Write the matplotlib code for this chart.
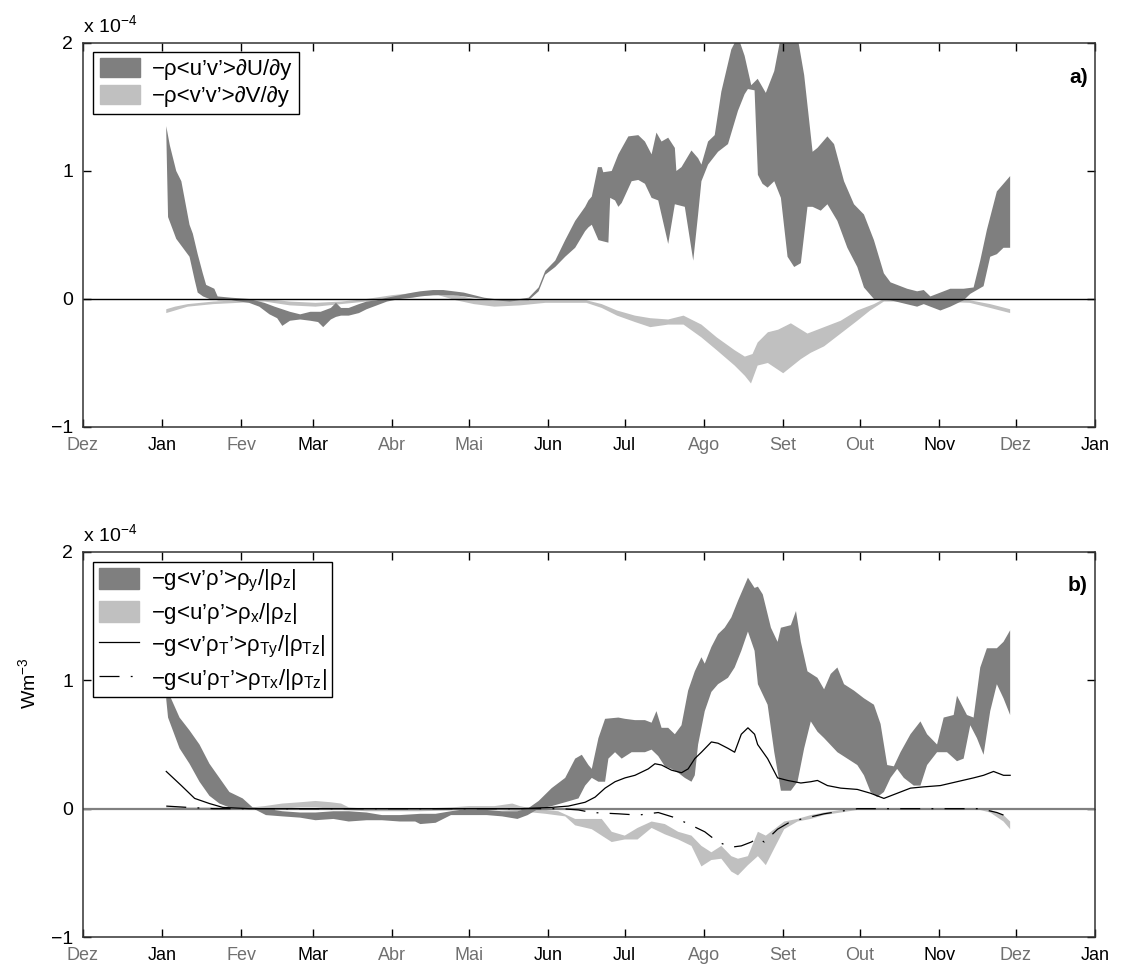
import numpy as np
import matplotlib
matplotlib.use("Agg")
import matplotlib.pyplot as plt
from matplotlib.patches import Patch
from matplotlib.lines import Line2D

plt.rcParams['font.family'] = ['Liberation Sans', 'DejaVu Sans']
plt.rcParams['mathtext.fontset'] = 'custom'
plt.rcParams['mathtext.rm'] = 'Liberation Sans'
plt.rcParams['mathtext.it'] = 'Liberation Sans:italic'

# days since 1 Jan; values in units of 1e-4
months = ['Dez', 'Jan', 'Fev', 'Mar', 'Abr', 'Mai', 'Jun', 'Jul', 'Ago', 'Set', 'Out', 'Nov', 'Dez', 'Jan']
month_days = [-31, 0, 31, 59, 90, 120, 151, 181, 212, 243, 273, 304, 334, 365]
grey_labels = ['Dez', 'Fev', 'Abr', 'Mai', 'Ago', 'Set', 'Out']

# ---- panel a: -rho<u'v'>dU/dy (dark band) ----
a_dark_top_day = [1.6, 3.0, 5.5, 7.5, 10.7, 12.0, 13.9, 15.9, 17.2, 20.4, 21.7, 27, 34, 40, 44, 47, 50, 54,
                  58, 62, 66, 68, 70, 73, 77, 80, 84, 88, 93, 98, 101, 106, 110, 114, 118, 122, 126, 130,
                  136, 140, 143.4, 147.3, 149.9, 153.8, 157.7, 161.6, 165.5, 166.8, 168.1, 170.5, 172.0,
                  172.6, 175.9, 178.5, 182.4, 186.3, 188.9, 191.5, 193.4, 195.4, 198.0, 200.6, 201.2,
                  203.2, 207.1, 209.7, 211.0, 213.6, 216.2, 218.8, 222.7, 225.3, 227.9, 230.5, 233.0,
                  236.2, 239.5, 242.1, 248.6, 251.2, 254.5, 256.4, 260.3, 262.9, 266.8, 270.7, 274.6,
                  278.5, 282.4, 285.0, 291.5, 295.4, 298.0, 300.6, 305.8, 308.4, 313.6, 317.5, 320.1,
                  322.7, 326.6, 331.8]
a_dark_top = [1.35, 1.20, 1.00, 0.92, 0.58, 0.51, 0.35, 0.20, 0.11, 0.08, 0.02, 0.01, 0.0, -0.03, -0.06,
              -0.08, -0.10, -0.12, -0.10, -0.10, -0.07, -0.03, -0.07, -0.07, -0.04, -0.02, -0.01, 0.01,
              0.03, 0.05, 0.06, 0.07, 0.07, 0.06, 0.05, 0.03, 0.01, 0.0, 0.0, 0.0, 0.01, 0.09, 0.22,
              0.30, 0.46, 0.61, 0.72, 0.77, 0.80, 1.03, 1.03, 0.99, 1.00, 1.13, 1.27, 1.28, 1.23, 1.13,
              1.30, 1.23, 1.26, 1.18, 1.00, 1.03, 1.16, 1.10, 1.05, 1.23, 1.28, 1.62, 1.95, 2.05, 1.90,
              1.67, 1.72, 1.61, 1.78, 2.05, 2.05, 1.75, 1.15, 1.18, 1.27, 1.21, 0.92, 0.74, 0.66, 0.46,
              0.20, 0.13, 0.08, 0.06, 0.07, 0.02, 0.06, 0.08, 0.08, 0.09, 0.30, 0.54, 0.84, 0.96]
a_dark_bot_day = [1.6, 2.3, 5.5, 8.1, 10.7, 12.7, 13.9, 16, 18.5, 22, 27, 34, 38, 42, 45, 47, 50, 54, 58,
                  61, 63, 66, 68, 70, 73, 77, 80, 84, 88, 93, 98, 101, 106, 110, 114, 118, 122, 126, 130,
                  136, 140, 143.4, 147.3, 149.9, 153.8, 157.7, 161.6, 165.5, 166.8, 168.1, 170.7, 172.6,
                  174.6, 175.3, 177.2, 178.5, 179.8, 183.7, 186.3, 188.9, 191.5, 194.1, 198.0, 200.6,
                  204.5, 207.8, 209.7, 211.0, 213.6, 217.5, 221.4, 225.3, 227.9, 229.2, 231.8, 233.1,
                  234.9, 236.9, 239.5, 242.1, 244.7, 247.3, 249.9, 252.5, 254.5, 257.7, 260.3, 264.2,
                  268.1, 272.0, 274.6, 278.5, 285.0, 295.4, 298.0, 304.5, 308.4, 313.6, 316.2, 321.4,
                  324.0, 326.6, 329.2, 331.8]
a_dark_bot = [1.30, 0.64, 0.47, 0.40, 0.33, 0.15, 0.05, 0.02, 0.0, -0.01, -0.01, -0.03, -0.06, -0.12,
              -0.15, -0.21, -0.17, -0.16, -0.17, -0.18, -0.22, -0.16, -0.14, -0.13, -0.13, -0.11, -0.08,
              -0.05, -0.02, 0.0, 0.01, 0.02, 0.03, 0.03, 0.03, 0.02, 0.01, 0.0, -0.01, -0.02, -0.01,
              -0.01, 0.06, 0.19, 0.25, 0.33, 0.40, 0.53, 0.56, 0.58, 0.46, 0.45, 0.44, 0.79, 0.77, 0.72,
              0.75, 0.92, 0.93, 0.90, 0.79, 0.77, 0.43, 0.74, 0.72, 0.30, 0.66, 0.92, 1.05, 1.15, 1.21,
              1.47, 1.60, 1.64, 1.63, 0.97, 0.90, 0.87, 0.92, 0.79, 0.33, 0.25, 0.28, 0.72, 0.72, 0.69,
              0.74, 0.61, 0.40, 0.25, 0.09, 0.0, -0.01, -0.06, -0.04, -0.09, -0.06, -0.01, 0.04, 0.10,
              0.33, 0.35, 0.40, 0.40]

# ---- panel a: -rho<v'v'>dV/dy (light band) ----
a_light_top_day = [1.6, 5, 10, 15, 20, 30, 40, 50, 60, 70, 80, 90, 100, 108, 115, 122, 130, 140, 150, 160,
                   166, 172, 178, 185, 191, 198, 204, 211, 217, 224, 228, 231, 233, 237, 241, 246, 252.5,
                   259, 265.5, 272, 278.5, 282.4, 300, 316, 324, 331.8]
a_light_top = [-0.08, -0.06, -0.04, -0.03, -0.02, -0.01, 0.0, -0.02, -0.03, -0.02, 0.0, 0.03, 0.05, 0.06,
               0.03, 0.0, -0.01, -0.01, -0.01, -0.01, -0.01, -0.04, -0.09, -0.13, -0.15, -0.16, -0.13,
               -0.20, -0.30, -0.40, -0.45, -0.43, -0.34, -0.26, -0.24, -0.19, -0.27, -0.22, -0.17, -0.09,
               -0.04, 0.0, 0.0, -0.01, -0.04, -0.08]
a_light_bot_day = [1.6, 5, 10, 15, 20, 30, 40, 50, 60, 70, 80, 90, 100, 108, 115, 122, 130, 140, 150, 160,
                   166, 172, 178, 185, 191, 198, 204, 211, 217, 224, 228, 230.4, 233, 237, 243, 249.9,
                   253.8, 259, 265.5, 272, 277, 282.4, 300, 316, 324, 331.8]
a_light_bot = [-0.11, -0.09, -0.06, -0.05, -0.04, -0.03, -0.02, -0.05, -0.06, -0.04, -0.02, 0.0, 0.02,
               0.03, -0.01, -0.04, -0.06, -0.05, -0.03, -0.03, -0.03, -0.07, -0.13, -0.18, -0.22, -0.20,
               -0.20, -0.30, -0.40, -0.52, -0.60, -0.66, -0.52, -0.50, -0.58, -0.47, -0.42, -0.37, -0.27,
               -0.17, -0.09, -0.02, -0.02, -0.03, -0.07, -0.11]

# ---- panel b: -g<v'rho'>rho_y/|rho_z| (dark band) ----
b_dark_top_day = [1.6, 3.0, 6.8, 10.7, 14.6, 18.5, 22.4, 26.3, 31.5, 35.4, 40.6, 47, 54, 60, 67, 73, 80,
                  86, 93, 101, 107, 113, 120, 127, 133, 139, 143, 147.3, 152.4, 157.7, 161.6, 164.2, 166.8,
                  168.1, 170.7, 173.3, 178.5, 181.1, 185, 188.9, 191.5, 193.4, 195.4, 198, 200.6, 203.2,
                  205.8, 208.4, 211, 212.3, 214.9, 217.5, 220.1, 222.7, 225.3, 229.2, 231.8, 233.1, 235,
                  238.2, 240.8, 242.1, 246, 248, 249.9, 252.5, 256.4, 259, 261.6, 264.2, 266.8, 270.7,
                  274.6, 278.5, 281.1, 283.7, 286.3, 288.9, 292.8, 296.7, 299.3, 303.2, 305.8, 309.7, 311,
                  314.9, 317.5, 320.1, 322.7, 326.6, 329.2, 331.8]
b_dark_top = [1.00, 0.88, 0.71, 0.61, 0.50, 0.35, 0.24, 0.13, 0.08, 0.01, 0.0, -0.02, -0.03, -0.03,
              -0.02, -0.02, -0.03, -0.05, -0.05, -0.04, -0.04, -0.02, 0.0, -0.01, -0.02, -0.02, 0.0, 0.06,
              0.16, 0.24, 0.39, 0.42, 0.34, 0.31, 0.55, 0.70, 0.71, 0.70, 0.69, 0.69, 0.67, 0.76, 0.63,
              0.63, 0.58, 0.65, 0.92, 1.07, 1.18, 1.13, 1.26, 1.36, 1.41, 1.49, 1.62, 1.80, 1.72, 1.73,
              1.67, 1.41, 1.30, 1.41, 1.43, 1.54, 1.30, 1.07, 1.02, 0.93, 1.05, 1.10, 0.97, 0.92, 0.86,
              0.81, 0.66, 0.34, 0.33, 0.44, 0.58, 0.68, 0.58, 0.50, 0.71, 0.73, 0.88, 0.73, 0.71, 1.10,
              1.25, 1.25, 1.30, 1.39]
b_dark_bot_day = [1.6, 2.3, 6.8, 10.7, 14.6, 18.5, 22.4, 27.6, 36.7, 40.6, 47, 54, 60, 67, 73, 80, 86,
                  93, 99, 101, 107, 113, 120, 127, 133, 139, 143, 147.3, 152.4, 157.7, 162.9, 165.5, 168.1,
                  170.7, 173.3, 174.6, 177.2, 179.8, 183.7, 188.9, 191.5, 194.1, 196.7, 199.3, 201.9,
                  204.5, 207.1, 208.4, 209.7, 212.3, 214.9, 217.5, 221.4, 224, 226.6, 229.2, 231.8, 233.1,
                  236.9, 239.5, 242.1, 246, 248.6, 251.2, 253.8, 256.4, 259, 264.2, 268.1, 272, 274.6,
                  277.2, 279.8, 282.4, 285, 287.6, 290.2, 294.1, 296.7, 299.3, 303.2, 307.1, 311, 313.6,
                  316.2, 318.8, 321.4, 324, 326.6, 329.2, 331.8]
b_dark_bot = [0.85, 0.71, 0.47, 0.35, 0.21, 0.10, 0.04, 0.0, -0.01, -0.05, -0.06, -0.07, -0.09, -0.08,
              -0.10, -0.09, -0.09, -0.10, -0.10, -0.12, -0.11, -0.05, -0.05, -0.05, -0.06, -0.08, -0.05,
              0.0, 0.02, 0.05, 0.08, 0.18, 0.24, 0.21, 0.21, 0.39, 0.44, 0.39, 0.44, 0.44, 0.46, 0.41,
              0.33, 0.31, 0.28, 0.24, 0.21, 0.26, 0.50, 0.76, 0.91, 0.97, 1.02, 1.10, 1.23, 1.38, 1.23,
              0.97, 0.81, 0.44, 0.14, 0.14, 0.21, 0.47, 0.68, 0.60, 0.55, 0.44, 0.39, 0.34, 0.26, 0.13,
              0.09, 0.13, 0.24, 0.31, 0.24, 0.18, 0.18, 0.34, 0.44, 0.44, 0.37, 0.39, 0.65, 0.55, 0.42,
              0.76, 0.97, 0.86, 0.73]

# ---- panel b: -g<u'rho'>rho_x/|rho_z| (light band) ----
b_light_top_day = [1.6, 20, 35, 40, 47, 54, 60, 66, 70, 73, 80, 90, 101, 113, 120, 130, 137, 140, 145, 150,
                   155, 161.6, 168.1, 172, 175.9, 181, 186, 191.5, 196.7, 201.9, 207.1, 211, 214.9, 218.8,
                   222.7, 225.3, 229.2, 233.1, 236.2, 239.5, 243.4, 248.6, 253.8, 259, 265.5, 272, 320,
                   324, 329.2, 331.8]
b_light_top = [0.01, 0.01, 0.01, 0.02, 0.04, 0.05, 0.06, 0.05, 0.04, 0.01, 0.0, 0.0, 0.0, 0.01, 0.02,
               0.02, 0.04, 0.02, 0.0, -0.01, -0.02, -0.08, -0.08, -0.08, -0.18, -0.21, -0.15, -0.10,
               -0.12, -0.18, -0.21, -0.29, -0.34, -0.29, -0.37, -0.39, -0.37, -0.18, -0.21, -0.16, -0.10,
               -0.08, -0.05, -0.03, -0.01, 0.0, 0.0, -0.01, -0.05, -0.10]
b_light_bot_day = [1.6, 20, 35, 40, 47, 54, 60, 66, 70, 80, 101, 120, 130, 140, 150, 157.7, 161.6, 168.1,
                   172, 175.9, 181, 186, 191.5, 196.7, 201.9, 207.1, 211, 214.9, 218.8, 222.7, 225.3, 229.2,
                   233.1, 236.2, 239.5, 243.4, 248.6, 253.8, 259, 265.5, 272, 320, 324, 329.2, 331.8]
b_light_bot = [-0.01, -0.01, -0.01, -0.01, 0.0, 0.01, 0.01, 0.0, -0.01, -0.02, -0.02, -0.01, -0.01, -0.02,
               -0.04, -0.06, -0.13, -0.16, -0.21, -0.26, -0.24, -0.24, -0.15, -0.20, -0.24, -0.29, -0.45,
               -0.40, -0.39, -0.49, -0.52, -0.44, -0.37, -0.44, -0.31, -0.16, -0.10, -0.08, -0.05, -0.03,
               -0.01, -0.01, -0.03, -0.10, -0.16]

# ---- panel b: temperature-only terms (lines) ----
b_solid_day = [1.6, 7.5, 12.7, 18.5, 23.7, 34, 60, 90, 120, 140, 152.4, 158.9, 165.5, 169.4, 173.3, 177.2,
               181.1, 185, 190.2, 192.8, 195.4, 199.3, 203.2, 205.8, 208.4, 211, 214.9, 217.5, 221.4, 224,
               226.6, 229.2, 231.8, 233, 236.9, 240.8, 244.7, 249.9, 253.8, 256.4, 260.3, 265.5, 272,
               277.2, 282.4, 287.6, 292.8, 298, 304.5, 311, 317.5, 321.4, 325.3, 329.2, 331.8]
b_solid = [0.29, 0.18, 0.08, 0.04, 0.01, 0.0, 0.0, 0.0, 0.0, 0.0, 0.01, 0.02, 0.05, 0.09, 0.16, 0.21,
           0.24, 0.26, 0.31, 0.35, 0.34, 0.30, 0.28, 0.31, 0.39, 0.44, 0.52, 0.51, 0.47, 0.44, 0.58, 0.63,
           0.58, 0.50, 0.39, 0.24, 0.22, 0.20, 0.21, 0.22, 0.18, 0.16, 0.15, 0.12, 0.08, 0.12, 0.16, 0.17,
           0.18, 0.21, 0.24, 0.26, 0.29, 0.26, 0.26]
b_dash_day = [1.6, 10, 20, 60, 100, 140, 156, 162.9, 168.1, 178.5, 186.3, 194.1, 200.6, 207.1, 212.3, 217.5,
              222.7, 226.6, 230.5, 233.1, 235.6, 240.8, 246, 252.5, 259, 265.5, 272, 320, 326.6, 329.2]
b_dash = [0.02, 0.01, 0.0, 0.0, 0.0, 0.0, 0.0, -0.01, -0.03, -0.04, -0.05, -0.03, -0.07, -0.13, -0.18,
          -0.26, -0.30, -0.29, -0.26, -0.23, -0.26, -0.16, -0.10, -0.07, -0.04, -0.02, 0.0, 0.0, -0.03, -0.05]

dark = '#7f7f7f'
light = '#c0c0c0'
fs = 13
lfs = 16
dashdot = (0, (16, 9, 1.5, 9))


def band(ax, xt, yt, xb, yb, color):
    xs = np.concatenate([xt, xb[::-1]])
    ys = np.concatenate([yt, yb[::-1]])
    ax.fill(xs, ys, color=color, lw=0)


def style(ax):
    ax.set_xlim(-31, 365)
    ax.set_ylim(-1, 2)
    ax.set_yticks([-1, 0, 1, 2])
    ax.set_yticklabels(['\u22121', '0', '1', '2'], fontsize=fs + 1)
    ax.set_xticks(month_days)
    ax.set_xticklabels(months, fontsize=fs)
    for lab in ax.get_xticklabels():
        if lab.get_text() in grey_labels:
            lab.set_color('#707070')
    ax.tick_params(direction='in', top=True, right=True, length=6, width=1, pad=7)
    for s in ax.spines.values():
        s.set_linewidth(1.1)
        s.set_color('#333333')
    ax.text(0, 1.018, 'x 10$^{-4}$', transform=ax.transAxes, fontsize=fs + 1, ha='left', va='bottom')


fig = plt.figure(figsize=(11.21, 9.72), dpi=100)
ax1 = fig.add_axes([0.0740, 0.5607, 0.9028, 0.3951])
ax2 = fig.add_axes([0.0740, 0.0360, 0.9028, 0.3961])

# a)
band(ax1, np.array(a_light_top_day), np.array(a_light_top), np.array(a_light_bot_day), np.array(a_light_bot), light)
band(ax1, np.array(a_dark_top_day), np.array(a_dark_top), np.array(a_dark_bot_day), np.array(a_dark_bot), dark)
ax1.axhline(0, color='black', lw=1)
style(ax1)
ax1.text(0.993, 0.91, 'a)', transform=ax1.transAxes, fontsize=15, fontweight='bold', ha='right', va='center')
h1 = [Patch(color=dark), Patch(color=light)]
l1 = ['\u2212\u03c1<u\u2019v\u2019>\u2202U/\u2202y', '\u2212\u03c1<v\u2019v\u2019>\u2202V/\u2202y']
leg = ax1.legend(h1, l1, loc='upper left', bbox_to_anchor=(0.01, 0.977), borderaxespad=0, fontsize=lfs,
                 handlelength=1.8, handleheight=0.9, handletextpad=0.55, labelspacing=0.22, borderpad=0.3,
                 fancybox=False, framealpha=1, edgecolor='black')
leg.get_frame().set_linewidth(1)

# b)
band(ax2, np.array(b_light_top_day), np.array(b_light_top), np.array(b_light_bot_day), np.array(b_light_bot), light)
band(ax2, np.array(b_dark_top_day), np.array(b_dark_top), np.array(b_dark_bot_day), np.array(b_dark_bot), dark)
ax2.axhline(0, color='#808080', lw=1.6)
ax2.plot(b_solid_day, b_solid, color='black', lw=0.9)
ax2.plot(b_dash_day, b_dash, color='black', lw=0.9, linestyle=dashdot)
style(ax2)
ax2.set_ylabel('Wm$^{-3}$', fontsize=fs + 1)
ax2.yaxis.set_label_coords(-0.043, 0.66)
ax2.text(0.993, 0.914, 'b)', transform=ax2.transAxes, fontsize=15, fontweight='bold', ha='right', va='center')
h2 = [Patch(color=dark), Patch(color=light),
      Line2D([], [], color='black', lw=0.9),
      Line2D([], [], color='black', lw=0.9, linestyle=dashdot)]
l2 = ['\u2212g<v\u2019\u03c1\u2019>\u03c1$_\\mathrm{y}$/|\u03c1$_\\mathrm{z}$|',
      '\u2212g<u\u2019\u03c1\u2019>\u03c1$_\\mathrm{x}$/|\u03c1$_\\mathrm{z}$|',
      '\u2212g<v\u2019\u03c1$_\\mathrm{T}$\u2019>\u03c1$_\\mathrm{Ty}$/|\u03c1$_\\mathrm{Tz}$|',
      '\u2212g<u\u2019\u03c1$_\\mathrm{T}$\u2019>\u03c1$_\\mathrm{Tx}$/|\u03c1$_\\mathrm{Tz}$|']
leg2 = ax2.legend(h2, l2, loc='upper left', bbox_to_anchor=(0.01, 0.974), borderaxespad=0, fontsize=lfs,
                  handlelength=1.8, handleheight=1.1, handletextpad=0.55, labelspacing=0.3, borderpad=0.25,
                  fancybox=False, framealpha=1, edgecolor='black')
leg2.get_frame().set_linewidth(1)

fig.savefig('out.png', dpi=100)
